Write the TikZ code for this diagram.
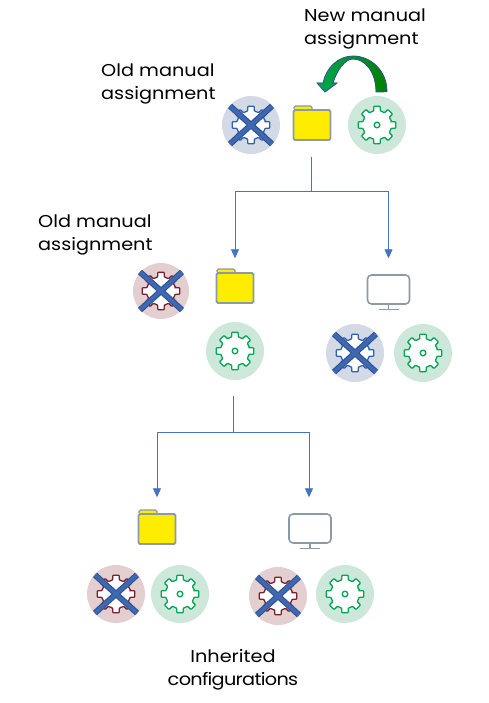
\documentclass[tikz,border=0pt]{standalone}
\usepackage{fontspec}
\setmainfont[FakeStretch=1.12]{Poppins}
\usepackage{tikz}
\usetikzlibrary{arrows.meta, calc}

\definecolor{gearblue}{HTML}{2F5FB3}
\definecolor{gearred}{HTML}{7B1E2E}
\definecolor{geargreen}{HTML}{00A651}
\definecolor{crossedge}{HTML}{2F5597}
\definecolor{crossfill}{HTML}{4068B0}
\definecolor{iconline}{HTML}{8A9AA6}
\definecolor{wireblue}{HTML}{4472C4}
\definecolor{tintblue}{HTML}{D3DAE6}
\definecolor{tintred}{HTML}{E3CFD0}
\definecolor{tintgreen}{HTML}{CDE8DA}

\begin{document}
\begin{tikzpicture}[
      x=1pt, y=-1pt,
      font=\fontsize{17.2}{23}\selectfont,
      label/.style = {align=left, inner sep=0pt},
      badge/.style = {circle, inner sep=0pt, minimum size=58pt},
      badgeblue/.style = {badge, fill=tintblue},
      badgered/.style = {badge, fill=tintred},
      badgegreen/.style = {badge, fill=tintgreen},
      iconbox/.style = {inner sep=0pt, minimum width=38pt, minimum height=35pt},
      wire/.style = {wireblue, line width=0.8pt},
      arrow/.style = {wire, -{Triangle[width=8pt, length=9pt]}},
      gear/.pic = {
        \draw [pic actions, fill=white, line width=1.3pt, line join=round, rounded corners=0.8pt]
          (-14:15) \foreach \a in {0,45,...,315} {
            -- (\a-13:14.5) -- (\a-10:19) -- (\a+10:19) -- (\a+13:14.5)
          } -- cycle;
        \draw [pic actions, line width=1.3pt] (0,0) circle (2.8);
      },
      cross/.pic = {
        \draw [crossedge, line width=6pt] (-21,-19) -- (21,19) (-21,19) -- (21,-19);
        \draw [crossfill, line width=3.6pt] (-21,-19) -- (21,19) (-21,19) -- (21,-19);
      },
      folder/.pic = {
        \draw [iconline, fill=yellow!95!orange, line width=1.3pt, rounded corners=1.5pt]
          (-18,-14) -- (-18,-17) -- (0,-17) -- (0,-14);
        \draw [iconline, fill=yellow!95!orange, line width=1.8pt, rounded corners=1.5pt]
          (-18.5,-13) rectangle (18.5,17);
      },
      monitor/.pic = {
        \draw [iconline, line width=1.6pt, rounded corners=4pt] (-21,-17) rectangle (21,12);
        \draw [iconline, line width=1.6pt] (0,12) -- (0,17) (-10,17.5) -- (10,17.5);
      }
    ]
      \useasboundingbox (0,0) rectangle (489,703);

      % --- TOP LEVEL ---
      \node [iconbox] (rootfolder) at (312,123) {};
      \pic at (rootfolder) {folder};
      \node [badgeblue] (rootold) at (251,125) {};
      \pic [draw=gearblue] at (rootold) {gear};
      \pic at (rootold) {cross};
      \node [badgegreen] (rootnew) at (377,125) {};
      \pic [draw=geargreen] at (rootnew) {gear};

      \node [label, anchor=west] (newlabel) at (304,29) {New manual\\assignment};
      \node [label, anchor=west] (oldlabel) at (101,84) {Old manual\\assignment};

      % Curved arrow
      \coordinate (curlstart) at ($(rootnew.north)+(10,-4)$);
      \filldraw [crossedge, line width=0.8pt, left color=geargreen, right color=green!50!black]
        (curlstart) .. controls +(0,-22) and (370,56) .. (353,56)
        .. controls (338,56) and (326,68) .. (323,83) -- (317,83) -- (325,92) -- (337,83) -- (333,83)
        .. controls (337,70) and (345,59) .. (353,59)
        .. controls (365,59) and (376,72) .. (376,92) -- cycle;

      % --- MIDDLE LEVEL ---
      \node [iconbox] (midfolder) at (235,286) {};
      \pic at (midfolder) {folder};
      \node [badgered, minimum size=56pt] (midold) at (161,291) {};
      \pic [draw=gearred] at (midold) {gear};
      \pic at (midold) {cross};
      \node [badgegreen] (midnew) at (235,351) {};
      \pic [draw=geargreen] at (midnew) {gear};

      \node [iconbox] (midscreen) at (388.5,292) {};
      \pic at (midscreen) {monitor};
      \node [badgeblue] (screenold) at (355,353) {};
      \pic [draw=gearblue] at (screenold) {gear};
      \pic at (screenold) {cross};
      \node [badgegreen] (screennew) at (423,353) {};
      \pic [draw=geargreen] at (screennew) {gear};

      \node [label, anchor=west] (midlabel) at (38,235) {Old manual\\assignment};

      % Conexoes
      \coordinate (fork1) at (311,191);
      \draw [wire] ($(rootfolder.south)+(-1,16)$) -- (fork1);
      \draw [arrow] (fork1) -| ($(midfolder.north)+(0,-10)$);
      \draw [arrow] (fork1) -| ($(midscreen.north)+(0,-16)$);

      % --- BOTTOM LEVEL ---
      \node [iconbox] (lowfolder) at (157,527) {};
      \pic at (lowfolder) {folder};
      \node [badgered] (lowold) at (116,594) {};
      \pic [draw=gearred] at (lowold) {gear};
      \pic at (lowold) {cross};
      \node [badgegreen] (lownew) at (180,594) {};
      \pic [draw=geargreen] at (lownew) {gear};

      \node [iconbox] (lowscreen) at (310,531) {};
      \pic at (lowscreen) {monitor};
      \node [badgered] (lowscreenold) at (278,596) {};
      \pic [draw=gearred] at (lowscreenold) {gear};
      \pic at (lowscreenold) {cross};
      \node [badgegreen] (lowscreennew) at (345,594) {};
      \pic [draw=geargreen] at (lowscreennew) {gear};

      \node [label, align=center] (inherited) at (233,670) {Inherited\\{\addfontfeatures{LetterSpace=-4}configurations}};

      % Conexoes
      \coordinate (fork2) at (233,432);
      \draw [wire] ($(midnew.south)+(-2,16)$) -- (fork2);
      \draw [arrow] (fork2) -| ($(lowfolder.north)+(0,-12)$);
      \draw [arrow] (fork2) -| ($(lowscreen.north)+(-1,-16)$);

    \end{tikzpicture}
\end{document}
